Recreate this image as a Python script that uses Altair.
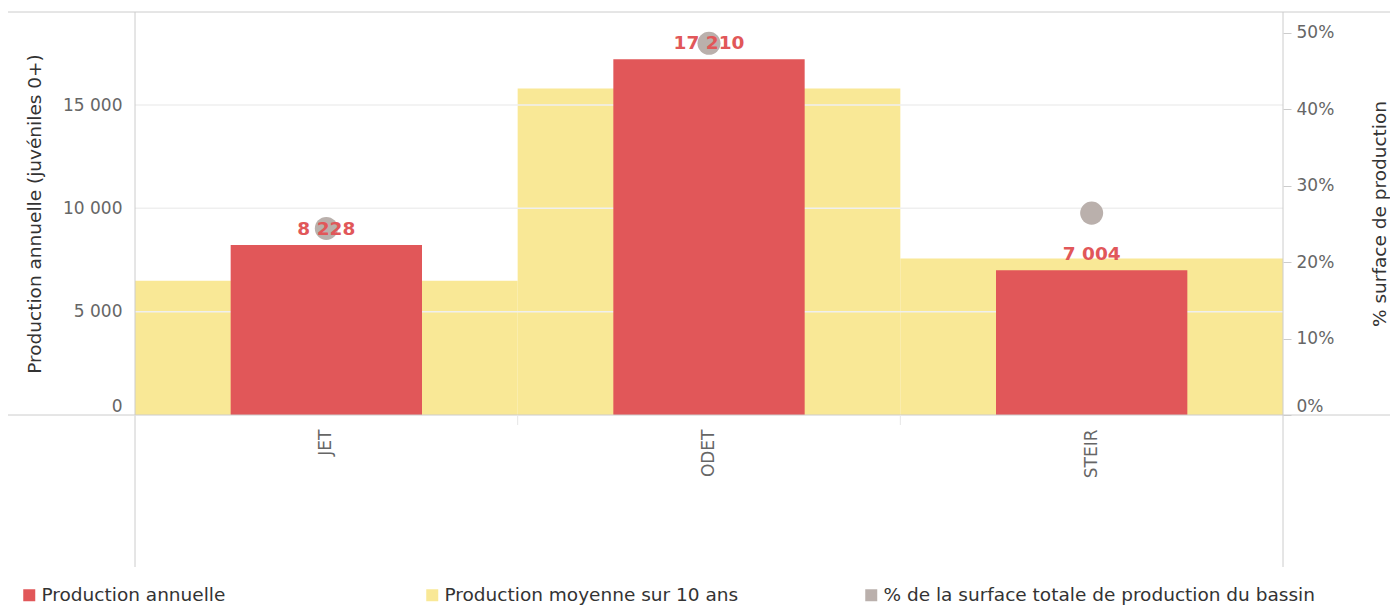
import altair as alt
import pandas as pd

# ---- data ----
bassins = ["JET", "ODET", "STEIR"]
prod_annuelle = [8228, 17210, 7004]
prod_moyenne = [6500, 15800, 7570]
pct_surface = [0.244, 0.486, 0.264]

series = [
    "Production annuelle",
    "Production moyenne sur 10 ans",
    "% de la surface totale de production du bassin",
]
left_ticks = [0, 5000, 10000, 15000]
grid_values = [5000, 10000, 15000]
right_ticks = [0, 0.1, 0.2, 0.3, 0.4, 0.5]

RED = "#e15759"
YELLOW = "#f9e896"
GREY = "#bab0ac"
FONT = "DejaVu Sans"

W, H = 1148, 403
Y_MAX = 19500
PCT_MAX = 0.527

df = pd.DataFrame({
    "bassin": bassins,
    "annuelle": prod_annuelle,
    "moyenne": prod_moyenne,
    "pct": pct_surface,
    "s_ann": [series[0]] * len(bassins),
    "s_moy": [series[1]] * len(bassins),
    "s_pct": [series[2]] * len(bassins),
})

space_fmt = "replace(format(datum.value, ','), ',', ' ')"

x_axis = alt.Axis(title=None, labelAngle=270, labelPadding=14, ticks=False,
                  domain=False, grid=False, labelFontSize=17, labelColor="#666666",
                  labelFont=FONT)
x_enc = alt.X("bassin:N", sort=bassins,
              scale=alt.Scale(paddingInner=0, paddingOuter=0), axis=x_axis)


def y_left(field, axis=None):
    return alt.Y(field, scale=alt.Scale(domain=[0, Y_MAX], nice=False, zero=True),
                 axis=axis)


def legend(x, y):
    return alt.Legend(orient="none", legendX=x, legendY=y, title=None,
                      symbolType="square", symbolSize=144, symbolStrokeWidth=0,
                      labelFontSize=18.5, labelColor="#333333", labelFont=FONT,
                      labelOffset=3, padding=0, labelLimit=600)


LEG_Y = 574

left_axis = alt.Axis(orient="left", values=left_ticks, labelExpr=space_fmt,
                     grid=False, ticks=False, domain=False, labelPadding=13,
                     labelFlush=True, labelFontSize=17, labelColor="#666666",
                     labelFont=FONT,
                     title="Production annuelle (juvéniles 0+)", titleFontSize=18.5,
                     titleColor="#333333", titleFontWeight="normal", titleFont=FONT,
                     titleAngle=270, titleX=-101, titleY=H / 2,
                     titleAlign="center", titleBaseline="middle")

yellow = alt.Chart(df).mark_bar().encode(
    x=x_enc,
    y=y_left("moyenne:Q", left_axis),
    color=alt.Color("s_moy:N", scale=alt.Scale(domain=[series[1]], range=[YELLOW]),
                    legend=legend(288, LEG_Y)),
)

grid = alt.Chart(pd.DataFrame({"g": grid_values})).mark_rule(
    color="#efefef", strokeWidth=1.5
).encode(
    y=y_left("g:Q"),
    x=alt.value(0), x2=alt.value(W),
)

red = alt.Chart(df).mark_bar(width={"band": 0.5}).encode(
    x=alt.X("bassin:N", sort=bassins),
    y=y_left("annuelle:Q"),
    color=alt.Color("s_ann:N", scale=alt.Scale(domain=[series[0]], range=[RED]),
                    legend=legend(-115, LEG_Y)),
)

right_axis = alt.Axis(orient="right", values=right_ticks, format=".0%",
                      grid=False, ticks=True, tickSize=8, tickColor="#cccccc",
                      domain=False, labelPadding=5, labelFlush=True,
                      labelFontSize=17, labelColor="#666666", labelFont=FONT,
                      title="% surface de production", titleFontSize=18.5,
                      titleColor="#333333", titleFontWeight="normal", titleFont=FONT,
                      titleAngle=270, titleX=96, titleY=H / 2,
                      titleAlign="center", titleBaseline="middle")

points = alt.Chart(df).mark_circle(size=530, opacity=1).encode(
    x=alt.X("bassin:N", sort=bassins),
    y=alt.Y("pct:Q", scale=alt.Scale(domain=[0, PCT_MAX], nice=False, zero=True),
            axis=right_axis),
    color=alt.Color("s_pct:N", scale=alt.Scale(domain=[series[2]], range=[GREY]),
                    legend=legend(727, LEG_Y)),
)

labels = alt.Chart(df).transform_calculate(
    lab="replace(format(datum.annuelle, ','), ',', ' ')"
).mark_text(fontWeight="bold", fontSize=18.5, color=RED, baseline="alphabetic",
            dy=-10, font=FONT).encode(
    x=alt.X("bassin:N", sort=bassins),
    y=y_left("annuelle:Q"),
    text="lab:N",
)

one = pd.DataFrame({"k": [0]})
line_color = "#cccccc"
top_line = alt.Chart(one).mark_rule(color=line_color).encode(
    x=alt.value(-127), x2=alt.value(W + 107), y=alt.value(0))
bottom_line = alt.Chart(one).mark_rule(color=line_color).encode(
    x=alt.value(-127), x2=alt.value(W + 107), y=alt.value(H))
left_line = alt.Chart(one).mark_rule(color=line_color).encode(
    x=alt.value(0), y=alt.value(0), y2=alt.value(555))
right_line = alt.Chart(one).mark_rule(color=line_color).encode(
    x=alt.value(W), y=alt.value(0), y2=alt.value(555))

x_ticks = alt.Chart(df).mark_rule(color="#e6e6e6").encode(
    x=alt.X("bassin:N", sort=bassins, bandPosition=0),
    y=alt.value(H), y2=alt.value(H + 10),
)

chart = alt.layer(
    yellow, grid, red, points, labels,
    top_line, bottom_line, left_line, right_line, x_ticks,
).resolve_scale(
    y="independent", color="independent"
).properties(
    width=W, height=H,
    padding={"left": 127, "top": 4, "right": 107, "bottom": 196},
    autosize=alt.AutoSizeParams(type="none"),
).configure(
    font=FONT
).configure_view(
    stroke=None
)

chart.save("out.html", embed_options={"renderer": "svg", "actions": False})
